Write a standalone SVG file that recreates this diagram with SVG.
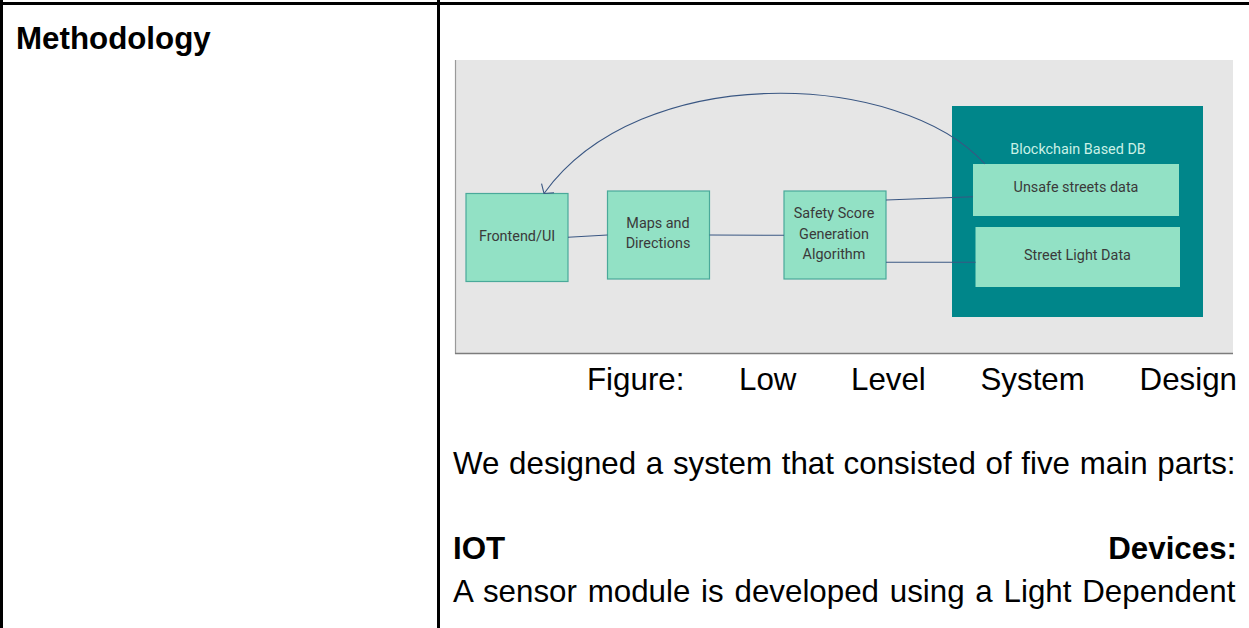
<svg xmlns="http://www.w3.org/2000/svg" width="1249" height="628" viewBox="0 0 1249 628">
  <style>
    .rule { stroke: #000; stroke-width: 3; fill: none; }
    .body { font-family: "Liberation Sans", Arial, sans-serif; font-size: 31.3px; fill: #000; }
    .bold { font-weight: bold; }
    .box { fill: #92e1c5; stroke: #4aa99a; stroke-width: 1.2; }
    .lbl { font-family: Roboto, "Liberation Sans", sans-serif; font-size: 14.4px; fill: #3a3a3a; text-anchor: middle; }
    .link { stroke: #3a5783; stroke-width: 1.1; fill: none; }
  </style>
  <defs>
    <marker id="vhead" markerUnits="userSpaceOnUse" viewBox="-12 -10 14 20" refX="0" refY="0" markerWidth="14" markerHeight="20" orient="auto">
      <path d="M -6.5 -7.7 L 0 0 L -6.5 7.7" fill="none" stroke="#3a5783" stroke-width="1.1"/>
    </marker>
  </defs>

  <rect width="1249" height="628" fill="#fff"/>

  <!-- table rules -->
  <g id="table">
    <line class="rule" x1="0" y1="3.5" x2="1249" y2="3.5"/>
    <line class="rule" x1="1.5" y1="0" x2="1.5" y2="628"/>
    <line class="rule" x1="438.5" y1="0" x2="438.5" y2="628"/>
  </g>

  <text id="heading" class="body bold" x="16" y="49">Methodology</text>

  <!-- embedded figure panel -->
  <g id="figure-panel">
    <rect x="455" y="60" width="778" height="293" fill="#e6e6e6"/>
    <line x1="455.5" y1="60" x2="455.5" y2="354" stroke="#9a9a9a" stroke-width="1.2"/>
    <line x1="455" y1="353.5" x2="1233" y2="353.5" stroke="#7c7c7c" stroke-width="1.6"/>
  </g>

  <g id="db">
    <rect x="952" y="106" width="251" height="211" fill="#00868a"/>
    <text class="lbl" x="1078" y="154" style="fill:#c9f1e6">Blockchain Based DB</text>
  </g>

  <g id="unsafe-streets">
    <rect class="box" x="973" y="164" width="206" height="52" style="stroke:none"/>
    <text class="lbl" x="1076" y="192">Unsafe streets data</text>
  </g>

  <g id="street-light">
    <rect class="box" x="975.5" y="227" width="204.5" height="60" style="stroke:none"/>
    <text class="lbl" x="1077.5" y="259.5">Street Light Data</text>
  </g>

  <g id="frontend">
    <rect class="box" x="466" y="193.5" width="102" height="88"/>
    <text class="lbl" x="517" y="240.5">Frontend/UI</text>
  </g>

  <g id="maps">
    <rect class="box" x="607.5" y="191" width="102" height="88"/>
    <text class="lbl" x="658" y="227.5">Maps and</text>
    <text class="lbl" x="658" y="248">Directions</text>
  </g>

  <g id="safety-score">
    <rect class="box" x="784" y="191" width="102" height="88"/>
    <text class="lbl" x="834" y="218">Safety Score</text>
    <text class="lbl" x="834" y="238.5">Generation</text>
    <text class="lbl" x="834" y="258.5">Algorithm</text>
  </g>

  <g id="connectors">
    <line class="link" x1="568" y1="237.3" x2="607.5" y2="235"/>
    <line class="link" x1="709.5" y1="235" x2="784" y2="235.3"/>
    <line class="link" x1="886" y1="200" x2="973" y2="196.7"/>
    <line class="link" x1="886" y1="262.3" x2="975.5" y2="262.3"/>
    <path class="link" d="M 985 164 C 900 70 640 60 544 193.5" marker-end="url(#vhead)"/>
  </g>

  <!-- caption and body copy -->
  <g id="caption" class="body">
    <text x="587" y="389.5">Figure:</text>
    <text x="739" y="389.5">Low</text>
    <text x="851" y="389.5">Level</text>
    <text x="980.5" y="389.5">System</text>
    <text x="1237" y="389.5" text-anchor="end">Design</text>
  </g>

  <text class="body" x="453" y="474" word-spacing="1">We designed a system that consisted of five main parts:</text>

  <text class="body bold" x="453" y="559">IOT</text>
  <text class="body bold" x="1237" y="559" text-anchor="end">Devices:</text>

  <text class="body" x="453" y="602" word-spacing="2.1">A sensor module is developed using a Light Dependent</text>
</svg>
